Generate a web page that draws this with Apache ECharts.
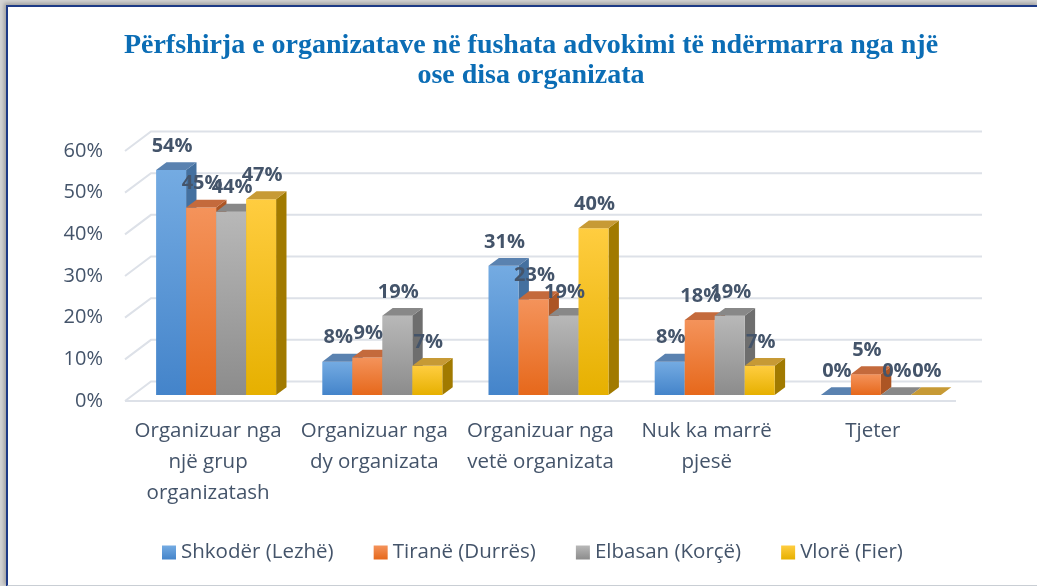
<!DOCTYPE html>
<html>
<head>
<meta charset="utf-8">
<script src="https://cdn.jsdelivr.net/npm/echarts@6/dist/echarts.min.js"></script>
<style>
  html, body { margin: 0; padding: 0; background: #fff; }
  #shade { position: absolute; left: 0; top: 0; width: 1037px; height: 586px; background: #d4d4d4; }
  #frame { position: absolute; left: 6px; top: 5px; width: 1031px; height: 578px; background: #fff;
           border-top: 2px solid #1d3a86; border-left: 2px solid #1d3a86; border-bottom: 2px solid #c9ced4;
           box-shadow: -2px -2px 4px rgba(0,0,0,0.25); }
  #chart { position: absolute; left: 0; top: 0; width: 1037px; height: 586px; }
</style>
</head>
<body>
<div id="shade"></div>
<div id="frame"></div>
<div id="chart"></div>
<script>
// data
const categories = [
  'Organizuar nga\nnjë grup\norganizatash',
  'Organizuar nga\ndy organizata',
  'Organizuar nga\nvetë organizata',
  'Nuk ka marrë\npjesë',
  'Tjeter'
];
const regions = ['Shkodër (Lezhë)', 'Tiranë (Durrës)', 'Elbasan (Korçë)', 'Vlorë (Fier)'];
const shkoder = [54, 8, 31, 8, 0];
const tirane = [45, 9, 23, 18, 5];
const elbasan = [44, 19, 19, 19, 0];
const vlore = [47, 7, 40, 7, 0];
const yTicks = [0, 10, 20, 30, 40, 50, 60];

const values = [shkoder, tirane, elbasan, vlore];

// front gradient top/bottom, side face, top face
const palette = [
  { hi: '#74abe2', lo: '#4484ca', side: '#44709f', top: '#5a82b0' },
  { hi: '#f4935b', lo: '#e6681b', side: '#ac5524', top: '#c46a3c' },
  { hi: '#b8b8b8', lo: '#8c8c8c', side: '#6e6e6e', top: '#888888' },
  { hi: '#ffcd40', lo: '#e6b000', side: '#a17a00', top: '#c79a35' }
];

const FONT = '"Open Sans", sans-serif';
const TXT = '#44546A';
const DEPTH_X = 26, DEPTH_Y = -19.5;   // floor depth
const BAR_FX = 8, BAR_FY = -6;         // bar front plane offset
const BAR_DX = 10.4, BAR_DY = -7.8;    // bar depth

function grad(p) {
  return new echarts.graphic.LinearGradient(0, 0, 0, 1, [
    { offset: 0, color: p.hi }, { offset: 1, color: p.lo }
  ]);
}

function barItem(si) {
  return function (params, api) {
    const ci = api.value(0), v = api.value(1);
    const base = api.coord([ci, 0]);
    const top = api.coord([ci, v]);
    const band = api.size([1, 0])[0];
    const bw = band * 0.1805;
    const x0 = base[0] - 2 * bw + si * bw + BAR_FX;
    const yb = base[1] + BAR_FY, yt = top[1] + BAR_FY;
    const p = palette[si];
    const kids = [];
    if (yb - yt > 0.5) {
      kids.push({ type: 'polygon', shape: { points: [
        [x0 + bw, yt], [x0 + bw + BAR_DX, yt + BAR_DY], [x0 + bw + BAR_DX, yb + BAR_DY], [x0 + bw, yb]
      ] }, style: { fill: p.side } });
      kids.push({ type: 'rect', shape: { x: x0, y: yt, width: bw, height: yb - yt }, style: { fill: grad(p) } });
    }
    kids.push({ type: 'polygon', shape: { points: [
      [x0, yt], [x0 + bw, yt], [x0 + bw + BAR_DX, yt + BAR_DY], [x0 + BAR_DX, yt + BAR_DY]
    ] }, style: { fill: p.top } });
    return { type: 'group', children: kids };
  };
}

const series = [];

// back wall / side wall gridlines
series.push({
  type: 'custom', z: 1, silent: true,
  data: yTicks.map(t => [0, t]),
  renderItem: function (params, api) {
    const cs = params.coordSys;
    const y = api.coord([0, api.value(1)])[1];
    const pts = [[cs.x, y], [cs.x + DEPTH_X, y + DEPTH_Y], [cs.x + cs.width + DEPTH_X, y + DEPTH_Y]];
    const kids = [{ type: 'polyline', shape: { points: pts }, style: { stroke: '#dde1e8', lineWidth: 2, fill: null } }];
    if (api.value(1) === 0) {
      kids.push({ type: 'line', shape: { x1: cs.x, y1: y, x2: cs.x + cs.width, y2: y },
        style: { stroke: '#dde1e8', lineWidth: 2 } });
    }
    return { type: 'group', children: kids };
  }
});

regions.forEach((name, si) => {
  series.push({
    type: 'custom', name: name, z: 2,
    itemStyle: { color: grad(palette[si]) },
    data: values[si].map((v, ci) => [ci, v]),
    renderItem: barItem(si)
  });
});

// value labels on top of everything
const labelData = [];
values.forEach((arr, si) => arr.forEach((v, ci) => labelData.push([ci, v, si])));
series.push({
  type: 'custom', z: 5, silent: true,
  data: labelData,
  renderItem: function (params, api) {
    const ci = api.value(0), v = api.value(1), si = api.value(2);
    const top = api.coord([ci, v]);
    const band = api.size([1, 0])[0];
    const bw = band * 0.1805;
    const x = top[0] - 2 * bw + si * bw + BAR_FX + bw / 2 + 1;
    return {
      type: 'text',
      style: { x: x, y: top[1] + BAR_FY - 24, text: v + '%', fill: TXT,
        font: 'bold 20px ' + FONT, textAlign: 'center', textVerticalAlign: 'middle' }
    };
  }
});

const chart = echarts.init(document.getElementById('chart'));
chart.setOption({
  animation: false,
  graphic: [{
    type: 'text', x: 531, y: 31,
    style: {
      text: 'Përfshirja e organizatave në fushata advokimi të ndërmarra nga një\nose disa organizata',
      font: 'bold 28px "Liberation Serif", serif', fill: '#0b6db5',
      textAlign: 'center', textVerticalAlign: 'top', lineHeight: 30
    }
  }],
  legend: {
    left: 157, top: 537, itemWidth: 14, itemHeight: 14, itemGap: 40,
    icon: 'rect',
    textStyle: { fontFamily: FONT, fontSize: 20.5, color: TXT },
    data: regions.map((r, i) => ({ name: r, itemStyle: { color: grad(palette[i]) } }))
  },
  grid: { left: 125, right: 81, top: 151, bottom: 185 },
  xAxis: {
    type: 'category', data: categories,
    axisLine: { show: false }, axisTick: { show: false },
    axisLabel: { fontFamily: FONT, fontSize: 20.5, color: TXT, lineHeight: 31, margin: 15, interval: 0 }
  },
  yAxis: {
    type: 'value', min: 0, max: 60, interval: 10,
    axisLine: { show: false }, axisTick: { show: false }, splitLine: { show: false },
    axisLabel: { formatter: '{value}%', fontFamily: FONT, fontSize: 20, color: TXT, margin: 22,
      padding: [5, 0, 0, 0] }
  },
  series: series
});
</script>
</body>
</html>
